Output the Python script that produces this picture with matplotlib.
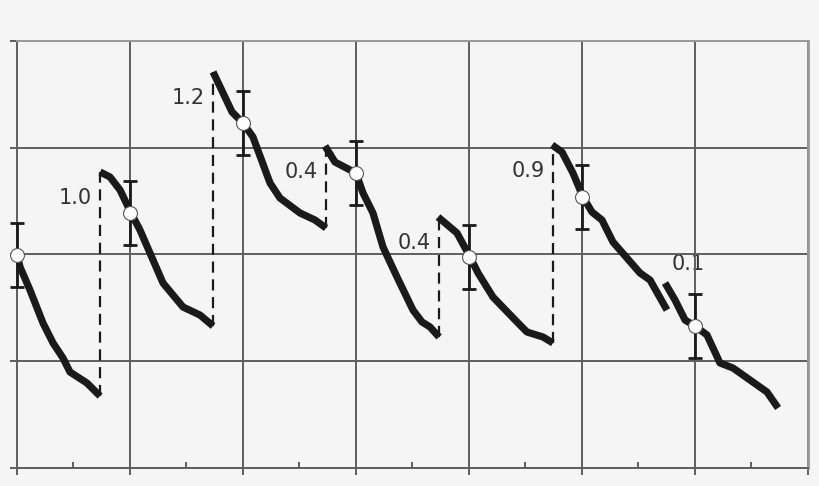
import numpy as np
import matplotlib
matplotlib.use('Agg')
import matplotlib.pyplot as plt

# curve pieces (x in grid cells, y in grid cells)
seg_x = [
    [0, 0.027, 0.115, 0.23, 0.319, 0.407, 0.469, 0.619, 0.735],
    [0.735, 0.823, 0.912, 1.009, 1.088, 1.204, 1.292, 1.469, 1.619, 1.735],
    [1.735, 1.903, 2.0, 2.088, 2.239, 2.327, 2.504, 2.637, 2.735],
    [2.726, 2.814, 3.0, 3.062, 3.150, 3.239, 3.363, 3.504, 3.584, 3.655, 3.735],
    [3.726, 3.894, 4.009, 4.080, 4.212, 4.425, 4.513, 4.655, 4.743],
    [4.735, 4.823, 4.920, 5.009, 5.088, 5.177, 5.274, 5.398, 5.513, 5.602, 5.752],
    [5.735, 5.823, 5.912, 6.0, 6.106, 6.221, 6.336, 6.487, 6.637, 6.735],
]
seg_y = [
    [1.995, 1.883, 1.667, 1.358, 1.171, 1.030, 0.899, 0.796, 0.674],
    [2.773, 2.726, 2.604, 2.389, 2.230, 1.948, 1.733, 1.508, 1.433, 1.330],
    [3.710, 3.335, 3.232, 3.101, 2.670, 2.529, 2.389, 2.323, 2.248],
    [3.016, 2.866, 2.763, 2.576, 2.389, 2.070, 1.789, 1.480, 1.368, 1.321, 1.227],
    [2.351, 2.201, 1.977, 1.827, 1.602, 1.368, 1.274, 1.227, 1.171],
    [3.026, 2.960, 2.763, 2.539, 2.398, 2.323, 2.117, 1.967, 1.827, 1.761, 1.480],
    [1.733, 1.574, 1.386, 1.330, 1.246, 0.984, 0.937, 0.824, 0.712, 0.562],
]

# measured points with error bars
pt_x = [0, 1, 2, 3, 4, 5, 6]
pt_y = [1.995, 2.389, 3.232, 2.763, 1.977, 2.539, 1.330]
pt_err = [0.30, 0.30, 0.30, 0.30, 0.30, 0.30, 0.30]

# jump sizes written next to each restart
jump_labels = ['1.0', '1.2', '0.4', '0.4', '0.9', '0.1']

bg = '#f5f5f5'
gc = '#5e5e5e'

fig = plt.figure(figsize=(8.2, 4.86), dpi=100, facecolor=bg)
ax = fig.add_axes([17/820, 18/486, 791/820, 427/486])
ax.set_facecolor(bg)

for xs, ys in zip(seg_x, seg_y):
    ax.plot(xs, ys, color='#1a1a1a', lw=5.2, solid_capstyle='butt',
            solid_joinstyle='round', zorder=3)

# dashed jumps + labels
for i, lab in enumerate(jump_labels):
    x0 = seg_x[i][-1]
    y0 = seg_y[i][-1]
    y1 = seg_y[i+1][0]
    if lab != '0.1':
        ax.plot([x0, x0], [y0, y1], color='#1a1a1a', lw=1.6,
                dashes=(5, 3), zorder=2.5)
        ax.annotate(lab, (x0, y1), xytext=(-6, -19), textcoords='offset points',
                    ha='right', va='center', fontsize=15, color='#333333', zorder=1)
    else:
        ax.annotate(lab, (seg_x[i+1][0], y1), xytext=(17, 14), textcoords='offset points',
                    ha='center', va='center', fontsize=15, color='#333333', zorder=1)

eb = ax.errorbar(pt_x, pt_y, yerr=pt_err, fmt='none', ecolor='#1a1a1a',
                 elinewidth=2, capsize=5, capthick=2, zorder=4)
for art in eb.get_children():
    art.set_clip_on(False)
ax.plot(pt_x, pt_y, 'o', ms=10, mfc='white', mec='#555555', mew=0.8,
        zorder=5, clip_on=False)

ax.set_xlim(0, 7)
ax.set_ylim(0, 4)
ax.set_xticks(np.arange(0, 8))
ax.set_xticks(np.arange(0.5, 7, 1), minor=True)
ax.set_yticks(np.arange(0, 5))
ax.set_xticklabels([])
ax.set_yticklabels([])
ax.tick_params(axis='x', which='major', direction='out', length=5, width=1.4, color=gc)
ax.tick_params(axis='x', which='minor', direction='in', length=4, width=1.4, color=gc)
ax.tick_params(axis='y', which='major', direction='out', length=5, width=1.4, color=gc)
ax.grid(True, which='major', color=gc, lw=1.4)
for s in ax.spines.values():
    s.set_color(gc)
    s.set_linewidth(1.4)
ax.spines['top'].set_color('#999999')
ax.spines['right'].set_color('#999999')
ax.spines['right'].set_linewidth(2)

plt.savefig('out.png', dpi=100, facecolor=bg)
